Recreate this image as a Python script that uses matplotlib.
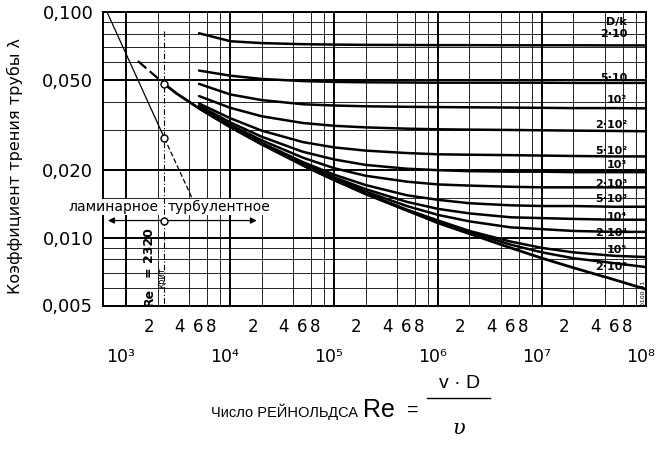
import numpy as np
import matplotlib
matplotlib.use('Agg')
import matplotlib.pyplot as plt
from matplotlib.ticker import NullLocator

nan = np.nan

# ---------------- data ----------------
re_pts = [5e3, 1e4, 2e4, 5e4, 1e5, 2e5, 5e5, 1e6, 2e6, 5e6, 1e7, 2e7, 5e7, 1e8]

lam_dk_20 = [0.0805, 0.0742, 0.0728, 0.0720, 0.0717, 0.0715, 0.0714, 0.0713, 0.0713, 0.0712, 0.0712, 0.0712, 0.0711, 0.0711]
lam_dk_50 = [0.0550, 0.0522, 0.0505, 0.0494, 0.0490, 0.0488, 0.0487, 0.0486, 0.0486, 0.0486, 0.0486, 0.0485, 0.0485, 0.0485]
lam_dk_100 = [0.0480, 0.0431, 0.0407, 0.0390, 0.0385, 0.0382, 0.0380, 0.0379, 0.0378, 0.0377, 0.0376, 0.0375, 0.0375, 0.0374]
lam_dk_200 = [0.0424, 0.0376, 0.0345, 0.0322, 0.0313, 0.0308, 0.0304, 0.0302, 0.0301, 0.0300, 0.0299, 0.0298, 0.0297, 0.0296]
lam_dk_500 = [0.0393, 0.0338, 0.0298, 0.0265, 0.0251, 0.0243, 0.0237, 0.0234, 0.0233, 0.0232, 0.0231, 0.0230, 0.0229, 0.0229]
lam_dk_1e3 = [0.0385, 0.0324, 0.0280, 0.0240, 0.0222, 0.0210, 0.0202, 0.0199, 0.0197, 0.0196, 0.0196, 0.0195, 0.0195, 0.0195]
lam_dk_2e3 = [0.0380, 0.0316, 0.0270, 0.0226, 0.0203, 0.0188, 0.0177, 0.0172, 0.0170, 0.0168, 0.0167, 0.0167, 0.0167, 0.0167]
lam_dk_5e3 = [0.0376, 0.0312, 0.0263, 0.0216, 0.0190, 0.0171, 0.0154, 0.0147, 0.0142, 0.0139, 0.0138, 0.0138, 0.0137, 0.0137]
lam_dk_1e4 = [0.0375, 0.0310, 0.0261, 0.0212, 0.0185, 0.0164, 0.0144, 0.0134, 0.0128, 0.0123, 0.0122, 0.0121, 0.0120, 0.0120]
lam_dk_2e4 = [0.0374, 0.0309, 0.0260, 0.0211, 0.0183, 0.0160, 0.0138, 0.0126, 0.0118, 0.0111, 0.0109, 0.0107, 0.0106, 0.0106]
lam_dk_1e5 = [nan, nan, nan, 0.0209, 0.0180, 0.0157, 0.0133, 0.0119, 0.0107, 0.0096, 0.0090, 0.0086, 0.0083, 0.0082]
lam_dk_2e5 = [nan, nan, nan, 0.0209, 0.0180, 0.0157, 0.0132, 0.0118, 0.0106, 0.0093, 0.0086, 0.0081, 0.0077, 0.0074]

dk_labels = ['2·10', '5·10', '10²', '2·10²', '5·10²', '10³',
             '2·10³', '5·10³', '10⁴', '2·10⁴', '10⁵', '2·10⁵']

# smooth pipe curve
re_smooth_dash = [1290, 2320]
lam_smooth_dash = [0.0606, 0.048]
re_smooth = [2320, 3000, 5e3, 1e4, 2e4, 5e4, 1e5, 2e5, 5e5, 1e6, 2e6, 5e6, 1e7, 2e7, 5e7, 1e8]
lam_smooth = [0.048, 0.0437, 0.0374, 0.0309, 0.0259, 0.0209, 0.0180, 0.0156, 0.0132, 0.0116,
              0.0104, 0.0090, 0.0081, 0.00735, 0.0065, 0.0059]

# laminar line
re_lam = [650, 2320]
lam_lam = [0.100, 0.0276]
re_lam_dash = [2320, 4300]
lam_lam_dash = [0.0276, 0.0149]

re_krit = 2320

# ticks / grid
y_major = [0.005, 0.01, 0.02, 0.05, 0.1]
y_major_labels = ['0,005', '0,010', '0,020', '0,050', '0,100']
y_minor = [0.006, 0.007, 0.008, 0.009, 0.015, 0.03, 0.04, 0.06, 0.07, 0.08, 0.09]
x_major = [1e3, 1e4, 1e5, 1e6, 1e7, 1e8]
x_major_labels = ['10³', '10⁴', '10⁵', '10⁶', '10⁷', '10⁸']
x_minor_mult = [2, 4, 6, 8]
x_minor_labels = ['2', '4', '6', '8']
x_decades = [1e3, 1e4, 1e5, 1e6, 1e7]

# ---------------- figure ----------------
plt.rcParams['font.family'] = ['DejaVu Sans']
fig = plt.figure(figsize=(6.67, 4.5), dpi=100)
ax = fig.add_axes([103/667, 1-305.5/450, (646-103)/667, 293.5/450])
ax.set_xscale('log')
ax.set_yscale('log')
ax.set_xlim(595, 1e8)
ax.set_ylim(0.005, 0.1)

# grid
for v in y_major:
    ax.axhline(v, color='black', lw=1.4, zorder=1)
for v in y_minor:
    ax.axhline(v, color='#222222', lw=0.7, zorder=1)
for v in x_major:
    ax.axvline(v, color='black', lw=1.4, zorder=1)
for d in x_decades:
    for m in x_minor_mult:
        ax.axvline(d * m, color='#222222', lw=0.7, zorder=1)

# curves
all_rough = [lam_dk_20, lam_dk_50, lam_dk_100, lam_dk_200, lam_dk_500, lam_dk_1e3,
             lam_dk_2e3, lam_dk_5e3, lam_dk_1e4, lam_dk_2e4, lam_dk_1e5, lam_dk_2e5]
for lam in all_rough:
    ax.plot(re_pts, lam, color='black', lw=1.8, zorder=3, solid_capstyle='round')

ax.plot(re_smooth, lam_smooth, color='black', lw=2.0, zorder=3)
ax.plot(re_smooth_dash, lam_smooth_dash, color='black', lw=1.6, ls=(0, (5, 2)), zorder=3)
ax.plot(re_lam, lam_lam, color='black', lw=0.9, zorder=3)
ax.plot(re_lam_dash, lam_lam_dash, color='black', lw=0.9, ls=(0, (4, 2)), zorder=3)

# critical Re line
ax.plot([re_krit, re_krit], [0.082, 0.005], color='black', lw=0.8,
        ls=(0, (5, 2, 1, 2)), zorder=2)

# markers
ax.plot([re_krit, re_krit, re_krit], [0.048, 0.0276, 0.0119], 'o', ms=5,
        mfc='white', mec='black', mew=1.0, zorder=5)

# laminar / turbulent arrows
y_arrow = 0.0119
ax.annotate('', xy=(664, y_arrow), xytext=(re_krit, y_arrow),
            arrowprops=dict(arrowstyle='-|>', color='black', lw=0.9,
                            mutation_scale=9, shrinkA=0, shrinkB=0), zorder=4)
ax.annotate('', xy=(18000, y_arrow), xytext=(re_krit, y_arrow),
            arrowprops=dict(arrowstyle='-|>', color='black', lw=0.9,
                            mutation_scale=9, shrinkA=0, shrinkB=0), zorder=4)
ax.text(750, 0.01366, 'ламинарное', ha='center', va='center', fontsize=10,
        zorder=6, bbox=dict(fc='white', ec='none', pad=0.5))
ax.text(7770, 0.01366, 'турбулентное', ha='center', va='center', fontsize=10,
        zorder=6, bbox=dict(fc='white', ec='none', pad=0.5))

# Re_krit text
ax.text(1650, 0.00548, 'Re', rotation=90, ha='center', va='center',
        fontsize=9, fontweight='bold', zorder=6)
ax.text(1650, 0.00850, '= 2320', rotation=90, ha='center', va='center',
        fontsize=9, fontweight='bold', zorder=6)
ax.text(2200, 0.00665, 'крит', rotation=90, ha='center', va='center',
        fontsize=6, zorder=6)

# D/k labels
lab_x = 6.6e7
ax.text(lab_x, 0.0907, 'D/k', ha='right', va='center', fontsize=8,
        fontweight='bold', zorder=6)
lab_y = [0.0795, 0.0510, 0.0407, 0.0315, 0.0243, 0.0210, 0.0172, 0.0149,
         0.0123, 0.0105, 0.00881, 0.00738]
for t, yv in zip(dk_labels, lab_y):
    ax.text(lab_x, yv, t, ha='right', va='center', fontsize=8,
            fontweight='bold', zorder=6)

ax.text(0.9945, 0.043, '0100 91', transform=ax.transAxes, rotation=90,
        ha='center', va='center', fontsize=4.5)

# axes styling
for s in ax.spines.values():
    s.set_linewidth(1.4)
ax.set_yticks(y_major)
ax.set_yticklabels(y_major_labels)
ax.yaxis.set_minor_locator(NullLocator())
ax.set_xticks([])
ax.xaxis.set_minor_locator(NullLocator())
ax.tick_params(axis='y', length=0, pad=7, labelsize=13)

# x tick labels (drawn as text, slightly shifted like the original)
for d in x_decades:
    for m, t in zip(x_minor_mult, x_minor_labels):
        ax.annotate(t, xy=(d * m, 0), xycoords=('data', 'axes fraction'),
                    xytext=(-6.5, -15.5), textcoords='offset points',
                    ha='center', va='center', fontsize=12)
for xv, t in zip(x_major, x_major_labels):
    ax.annotate(t, xy=(xv, 0), xycoords=('data', 'axes fraction'),
                xytext=(-4, -37), textcoords='offset points',
                ha='center', va='center', fontsize=12.5)

# axis titles
fig.text(15/667, 1-166/450, 'Коэффициент трения трубы λ', rotation=90,
         ha='center', va='center', fontsize=11.5)
fig.text(358/667, 1-412/450, 'Число РЕЙНОЛЬДСА', ha='right', va='center',
         fontsize=10.5, family='Liberation Sans')
fig.text(363/667, 1-410/450, 'Re', ha='left', va='center', fontsize=18,
         family='Liberation Sans')
fig.text(413/667, 1-410/450, '=', ha='center', va='center', fontsize=14,
         family='Liberation Sans')
fig.text(460/667, 1-383/450, 'v · D', ha='center', va='center', fontsize=14,
         family='Liberation Sans')
fig.add_artist(plt.Line2D([427/667, 490/667], [1-398/450, 1-398/450],
                          color='black', lw=1.0, transform=fig.transFigure))
fig.text(459/667, 1-428/450, 'υ', ha='center', va='center', fontsize=15,
         family='DejaVu Serif', style='italic')

fig.savefig('out.png', dpi=100)
